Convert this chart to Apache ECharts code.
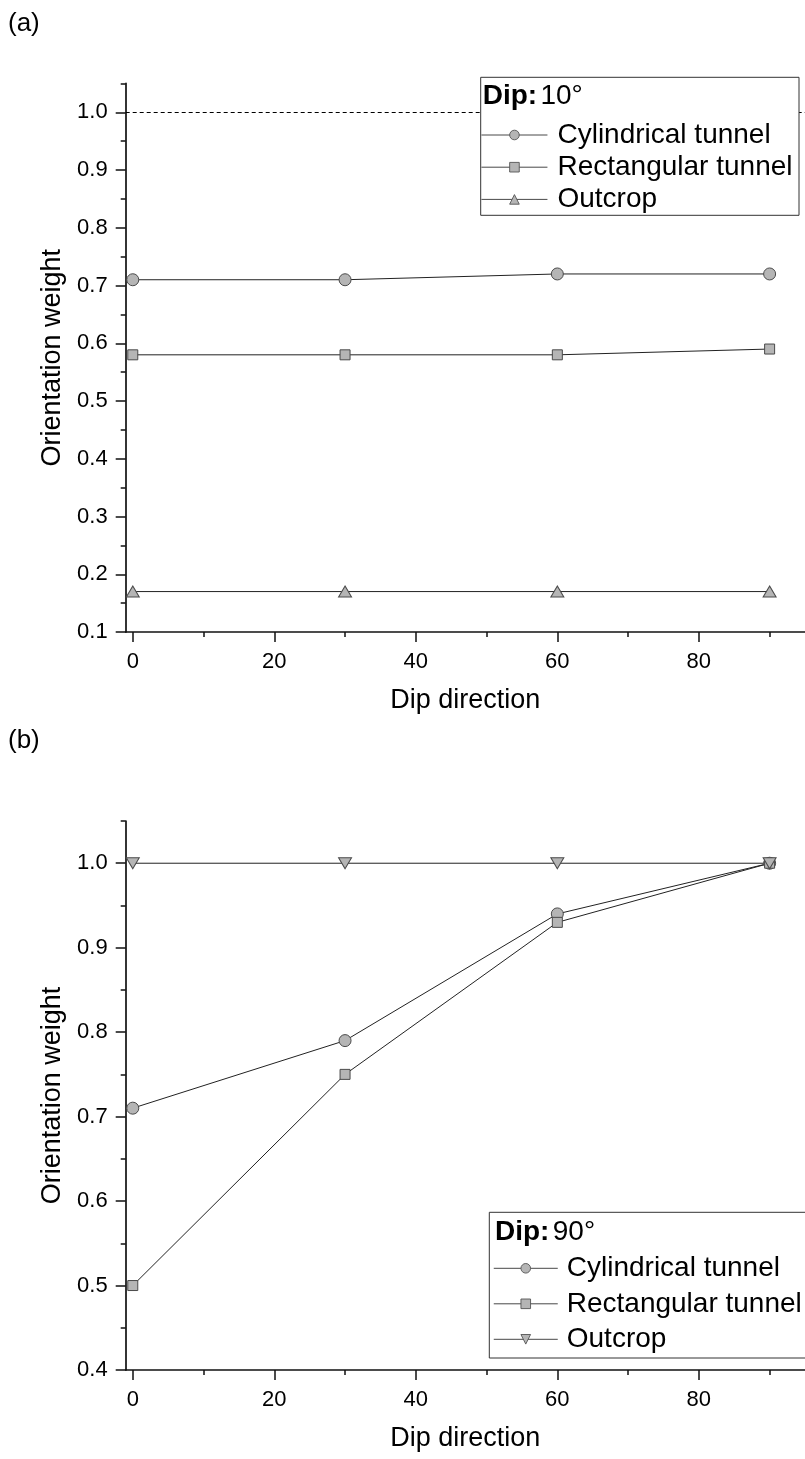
<!DOCTYPE html>
<html>
<head>
<meta charset="utf-8">
<script src="https://cdn.jsdelivr.net/npm/echarts@6/dist/echarts.min.js"></script>
<style>
html,body{margin:0;padding:0;background:#fff;}
#chart{width:805px;height:1459px;}
</style>
</head>
<body>
<div id="chart"></div>
<script>
// ---- data ----
const dipDirection = [0, 30, 60, 90];
const cylA = [0.71, 0.71, 0.72, 0.72];
const rectA = [0.58, 0.58, 0.58, 0.59];
const outA = [0.17, 0.17, 0.17, 0.17];
const refLineA = 1.0;
const cylB = [0.71, 0.79, 0.94, 1.0];
const rectB = [0.50, 0.75, 0.93, 1.0];
const outB = [1.0, 1.0, 1.0, 1.0];
const xMajor = [0, 20, 40, 60, 80];
const xMinor = [10, 30, 50, 70, 90];
const yMajorA = [0.1, 0.2, 0.3, 0.4, 0.5, 0.6, 0.7, 0.8, 0.9, 1.0];
const yMinorA = [0.15, 0.25, 0.35, 0.45, 0.55, 0.65, 0.75, 0.85, 0.95, 1.05];
const yMajorB = [0.4, 0.5, 0.6, 0.7, 0.8, 0.9, 1.0];
const yMinorB = [0.45, 0.55, 0.65, 0.75, 0.85, 0.95, 1.05];
const names = ['Cylindrical tunnel', 'Rectangular tunnel', 'Outcrop'];

const FONT = 'Liberation Sans, Arial, sans-serif';
const AX = '#111';
const chart = echarts.init(document.getElementById('chart'));

function pairs(ys) { return dipDirection.map((x, i) => [x, ys[i]]); }

const grids = [
  { left: 125.7, top: 83.4, width: 710.4, height: 548.6 },
  { left: 125.7, top: 821, width: 710.4, height: 549 }
];

function xAxes(gi) {
  return [
    {
      type: 'value', gridIndex: gi, min: -1, max: 95, position: 'bottom',
      name: 'Dip direction', nameLocation: 'middle', nameGap: 55,
      nameTextStyle: { fontFamily: FONT, fontSize: 27, color: '#000' },
      axisLine: { show: true, onZero: false, lineStyle: { color: AX, width: 1.7 } },
      axisTick: { show: true, customValues: xMajor, length: 10, lineStyle: { color: AX, width: 1.5 } },
      axisLabel: { customValues: xMajor, margin: 19, fontFamily: FONT, fontSize: 22, color: '#000' },
      splitLine: { show: false }
    },
    {
      type: 'value', gridIndex: gi, min: -1, max: 95, position: 'bottom',
      axisLine: { show: false, onZero: false },
      axisTick: { show: true, customValues: xMinor, length: 5, lineStyle: { color: AX, width: 1.5 } },
      axisLabel: { show: false },
      splitLine: { show: false }
    }
  ];
}
function yAxes(gi, min, major, minor) {
  return [
    {
      type: 'value', gridIndex: gi, min: min, max: 1.05, position: 'left',
      name: 'Orientation weight', nameLocation: 'middle', nameGap: 55,
      nameTextStyle: { fontFamily: FONT, fontSize: 27, color: '#000' },
      axisLine: { show: true, onZero: false, lineStyle: { color: AX, width: 1.7 } },
      axisTick: { show: true, customValues: major, length: 10, lineStyle: { color: AX, width: 1.5 } },
      axisLabel: { customValues: major, margin: 18, fontFamily: FONT, fontSize: 22, color: '#000',
        formatter: v => Number(v).toFixed(1) },
      splitLine: { show: false }
    },
    {
      type: 'value', gridIndex: gi, min: min, max: 1.05, position: 'left',
      axisLine: { show: false, onZero: false },
      axisTick: { show: true, customValues: minor, length: 5, lineStyle: { color: AX, width: 1.5 } },
      axisLabel: { show: false },
      splitLine: { show: false }
    }
  ];
}

const markerStyle = { color: '#b5b5b5', borderColor: '#4a4a4a', borderWidth: 1 };
const lineStyle = { color: '#222', width: 1 };

function mkSeries(prefix, ys, sym, size, xi, yi, extra) {
  return Object.assign({
    type: 'line', name: prefix + ys.name, data: pairs(ys.data),
    xAxisIndex: xi, yAxisIndex: yi,
    symbol: sym, symbolSize: size, showAllSymbol: true,
    lineStyle: lineStyle, itemStyle: markerStyle,
    emphasis: { disabled: true }, animation: false, z: 3
  }, extra || {});
}

const series = [
  mkSeries('a|', { name: names[0], data: cylA }, 'circle', 12, 0, 0, {
    markLine: {
      silent: true, symbol: ['none', 'none'], label: { show: false },
      lineStyle: { color: '#000', width: 1, type: [4, 3] },
      data: [{ yAxis: refLineA }], animation: false
    }
  }),
  mkSeries('a|', { name: names[1], data: rectA }, 'rect', 10, 0, 0),
  mkSeries('a|', { name: names[2], data: outA }, 'triangle', [13, 11], 0, 0),
  mkSeries('b|', { name: names[0], data: cylB }, 'circle', 12, 2, 2),
  mkSeries('b|', { name: names[1], data: rectB }, 'rect', 10, 2, 2),
  mkSeries('b|', { name: names[2], data: outB }, 'triangle', [13, 11], 2, 2, { symbolRotate: 180 })
];

const legendCommon = {
  orient: 'vertical', itemHeight: 12, z: 60, padding: 0,
  selectedMode: false,
  formatter: n => n.split('|')[1],
  lineStyle: { color: '#333', width: 0.9 },
  itemStyle: { color: '#b5b5b5', borderColor: '#555', borderWidth: 0.9 },
  inactiveColor: '#b5b5b5'
};

chart.setOption({
  animation: false,
  backgroundColor: '#fff',
  grid: grids,
  xAxis: [...xAxes(0), ...xAxes(1)],
  yAxis: [...yAxes(0, 0.1, yMajorA, yMinorA), ...yAxes(1, 0.4, yMajorB, yMinorB)],
  legend: [
    Object.assign({}, legendCommon, {
      left: 481, top: 121, itemGap: 4.2, itemWidth: 66,
      textStyle: { fontFamily: FONT, fontSize: 28, color: '#000', padding: [0, 0, 0, 5] },
      data: names.map(n => 'a|' + n)
    }),
    Object.assign({}, legendCommon, {
      left: 493.3, top: 1254.3, itemGap: 7.5, itemWidth: 64,
      textStyle: { fontFamily: FONT, fontSize: 28, color: '#000', padding: [0, 0, 0, 4] },
      data: names.map(n => 'b|' + n)
    })
  ],
  graphic: [
    { type: 'text', left: 8, top: 11, z: 60,
      style: { text: '(a)', font: '26px ' + FONT, fill: '#000' } },
    { type: 'text', left: 8, top: 728, z: 60,
      style: { text: '(b)', font: '26px ' + FONT, fill: '#000' } },
    { type: 'rect', z: 50, shape: { x: 480.7, y: 77.3, width: 318.3, height: 138 },
      style: { fill: '#fff', stroke: '#333', lineWidth: 1 } },
    { type: 'text', z: 60, x: 482.7, y: 82,
      style: { rich: { b: { fontWeight: 'bold', fontSize: 28, fontFamily: FONT, fill: '#000' },
                       n: { fontSize: 28, fontFamily: FONT, fill: '#000' } },
               text: '{b|Dip:} {n|10°}' } },
    { type: 'rect', z: 50, shape: { x: 489.3, y: 1212.3, width: 340, height: 145.7 },
      style: { fill: '#fff', stroke: '#333', lineWidth: 1 } },
    { type: 'text', z: 60, x: 495, y: 1218.5,
      style: { rich: { b: { fontWeight: 'bold', fontSize: 28, fontFamily: FONT, fill: '#000' },
                       n: { fontSize: 28, fontFamily: FONT, fill: '#000' } },
               text: '{b|Dip:} {n|90°}' } }
  ],
  series: series
});
</script>
</body>
</html>
